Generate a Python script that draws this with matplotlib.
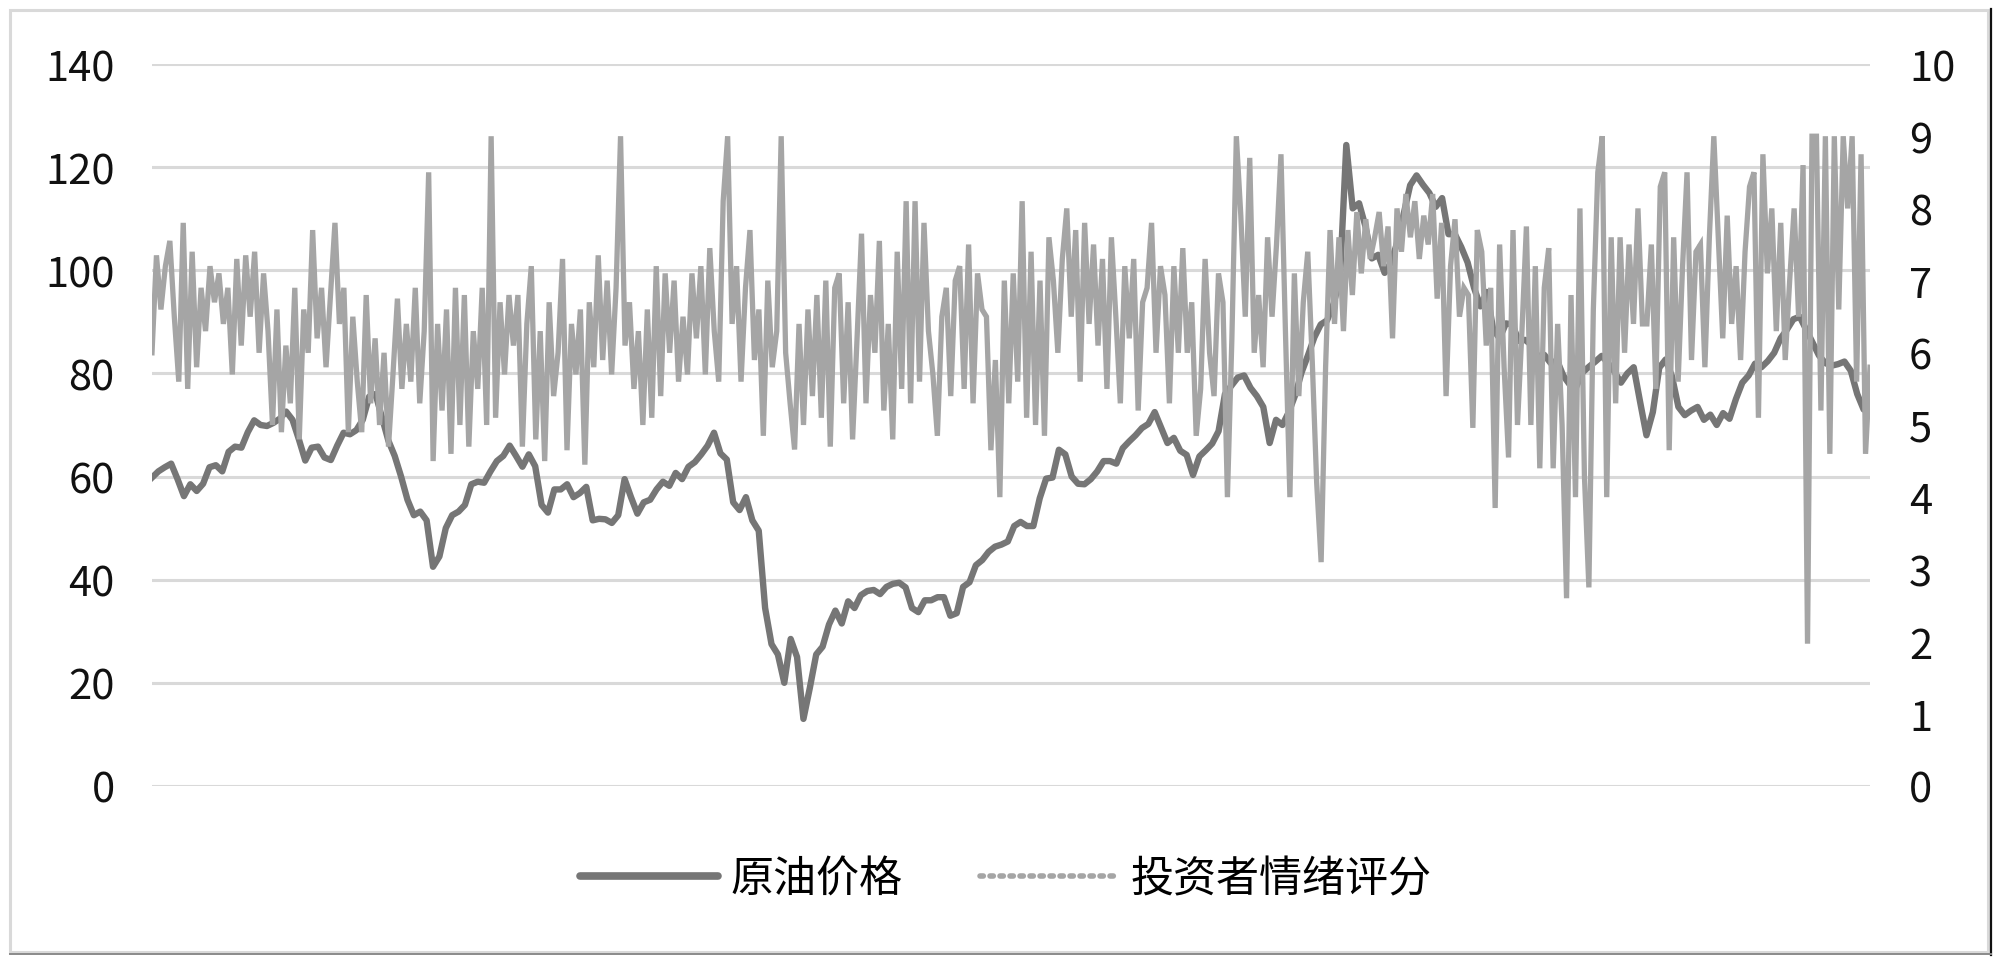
import numpy as np
import matplotlib.pyplot as plt
from matplotlib.lines import Line2D
from matplotlib.patches import Rectangle

plt.rcParams["font.family"] = ["Noto Sans CJK SC", "DejaVu Sans"]
plt.rcParams["font.weight"] = "light"

# crude oil price (left axis)
oil_price = [
    59.8, 61, 61.8, 62.5, 59.5, 56.2, 58.5, 57.2, 58.6, 61.8,
    62.2, 61, 64.8, 65.8, 65.6, 68.6, 70.9, 70, 69.8, 70.4,
    71.2, 72.6, 71, 67.2, 63.1, 65.6, 65.8, 63.7, 63.2, 66,
    68.5, 68.2, 69, 71, 75.5, 76, 71.5, 67, 64, 60,
    55.5, 52.5, 53.2, 51.5, 42.5, 44.5, 50, 52.5, 53.2, 54.5,
    58.5, 59, 58.8, 61, 63, 64, 66, 64, 61.9, 64.3,
    62, 54.5, 53, 57.5, 57.5, 58.5, 56, 56.8, 58, 51.5,
    51.8, 51.7, 51, 52.5, 59.5, 56, 52.8, 55, 55.5, 57.5,
    59, 58.2, 60.7, 59.5, 61.9, 62.8, 64.3, 66, 68.5, 64.5,
    63.3, 55, 53.5, 56, 51.5, 49.5, 34.5, 27.5, 25.5, 20,
    28.5, 25, 13, 19, 25.5, 27, 31.3, 34, 31.5, 35.8,
    34.5, 37, 37.8, 38, 37.2, 38.6, 39.2, 39.4, 38.5, 34.5,
    33.7, 36, 36, 36.6, 36.6, 33, 33.5, 38.6, 39.5, 42.8,
    43.8, 45.4, 46.4, 46.8, 47.4, 50.4, 51.2, 50.4, 50.4, 55.8,
    59.6, 59.8, 65.2, 64.3, 60, 58.6, 58.5, 59.5, 61, 63,
    63, 62.5, 65.5, 66.8, 68, 69.4, 70.2, 72.5, 69.5, 66.5,
    67.5, 65, 64.2, 60.3, 63.9, 65.1, 66.4, 68.8, 76, 77.6,
    79.2, 79.6, 77.2, 75.6, 73.5, 66.5, 71, 70, 72.5, 75.8,
    80.2, 83.5, 87, 89.5, 90.3, 93.5, 98.2, 124.3, 112, 113,
    108.5, 102.3, 103, 99.5, 101.5, 105.5, 111, 116.5, 118.4, 116.6,
    115, 112.3, 114, 107, 107, 104.5, 101.5, 96.6, 93, 95.8,
    88.5, 86.8, 89.7, 89.5, 86.3, 86.5, 85.5, 83.3, 83.6, 82,
    82.5, 79.5, 77.8, 77.4, 80.2, 81.3, 82.3, 83.4, 82, 80.3,
    78.2, 80, 81.2, 74.5, 68, 72.5, 81.1, 82.7, 79.4, 73.5,
    71.9, 72.8, 73.5, 71, 72, 70, 72.3, 71.2, 75, 78.2,
    79.6, 81.9, 81.2, 82.4, 84, 86.8, 88.5, 90.5, 91, 88.5,
    86, 83.5, 82, 81.5, 81.8, 82.3, 80.5, 76, 73, 77.5,
]

# investor sentiment score (right axis)
sentiment = [
    6.0, 7.35, 6.6, 7.2, 7.55, 6.5, 5.6, 7.8, 5.5, 7.4,
    5.8, 6.9, 6.3, 7.2, 6.7, 7.1, 6.4, 6.9, 5.7, 7.3,
    6.1, 7.35, 6.5, 7.4, 6.0, 7.1, 6.3, 5.0, 6.6, 4.9,
    6.1, 5.3, 6.9, 4.8, 6.6, 6.0, 7.7, 6.2, 6.9, 5.8,
    6.8, 7.8, 6.4, 6.9, 4.9, 6.5, 5.6, 4.9, 6.8, 5.3,
    6.2, 5.0, 6.0, 4.7, 5.7, 6.75, 5.5, 6.4, 5.6, 6.9,
    5.3, 6.3, 8.5, 4.5, 6.4, 5.2, 6.6, 4.6, 6.9, 5.0,
    6.8, 4.7, 6.3, 5.5, 6.9, 5.0, 9.0, 5.1, 6.7, 5.7,
    6.8, 6.1, 6.8, 4.7, 6.4, 7.2, 4.8, 6.3, 4.5, 6.7,
    5.4, 6.0, 7.3, 4.65, 6.4, 5.7, 6.6, 4.45, 6.7, 5.8,
    7.35, 5.9, 7.0, 5.7, 6.9, 9.0, 6.1, 6.7, 5.5, 6.3,
    5.0, 6.6, 5.1, 7.2, 5.4, 7.1, 6.0, 7.0, 5.6, 6.5,
    5.7, 7.1, 6.2, 7.2, 5.7, 7.45, 6.3, 5.6, 8.1, 9.0,
    6.4, 7.2, 5.6, 6.9, 7.7, 5.9, 6.6, 4.85, 7.0, 5.8,
    6.3, 9.0, 6.0, 5.3, 4.66, 6.4, 5.0, 6.6, 5.4, 6.8,
    5.1, 7.0, 4.7, 6.9, 7.1, 5.3, 6.7, 4.8, 6.2, 7.65,
    5.3, 6.8, 6.0, 7.55, 5.2, 6.4, 4.8, 7.4, 5.5, 8.1,
    5.3, 8.1, 5.6, 7.8, 6.3, 5.7, 4.85, 6.5, 6.9, 5.4,
    7.0, 7.2, 5.5, 7.5, 5.3, 7.1, 6.6, 6.5, 4.65, 5.9,
    4.0, 7.0, 5.3, 7.1, 5.6, 8.1, 5.1, 7.4, 5.0, 7.0,
    4.85, 7.6, 7.0, 6.0, 7.3, 8.0, 6.5, 7.7, 5.6, 7.8,
    6.4, 7.5, 6.1, 7.3, 5.5, 7.6, 6.5, 5.3, 7.2, 6.2,
    7.3, 5.2, 6.7, 6.9, 7.8, 6.0, 7.2, 6.8, 5.3, 7.2,
    6.0, 7.45, 6.0, 6.7, 4.85, 5.5, 7.3, 6.0, 5.4, 7.1,
    6.7, 4.0, 6.2, 9.0, 7.9, 6.5, 8.7, 6.0, 6.8, 5.8,
    7.6, 6.5, 7.5, 8.75, 6.3, 4.0, 7.1, 5.4, 6.7, 7.4,
    5.9, 4.2, 3.1, 5.8, 7.7, 6.4, 7.6, 6.3, 7.7, 6.8,
    7.95, 7.1, 7.85, 7.3, 7.6, 7.95, 7.2, 7.75, 6.2, 8.0,
    7.4, 8.2, 7.6, 8.1, 7.3, 7.9, 7.5, 8.2, 6.75, 7.8,
    5.4, 7.2, 7.85, 6.5, 6.9, 6.8, 4.96, 7.7, 7.4, 6.1,
    6.9, 3.85, 7.5, 5.8, 4.55, 7.7, 5.0, 6.3, 7.75, 5.0,
    7.2, 4.4, 6.9, 7.45, 4.4, 6.4, 5.0, 2.6, 6.8, 4.0,
    8.0, 4.3, 2.75, 6.6, 8.5, 9.0, 4.0, 7.6, 5.3, 7.6,
    6.0, 7.5, 6.4, 8.0, 6.4, 6.4, 7.5, 5.5, 8.3, 8.5,
    4.65, 7.6, 5.6, 7.2, 8.5, 5.9, 7.4, 7.5, 5.8, 7.6,
    9.0, 7.6, 6.2, 7.9, 6.4, 7.2, 5.9, 7.4, 8.3, 8.5,
    5.1, 8.75, 7.1, 8.0, 6.3, 7.8, 5.9, 7.0, 8.0, 6.5,
    8.6, 1.97, 9.0, 9.0, 5.2, 9.0, 4.6, 9.0, 6.6, 9.0,
    8.0, 9.0, 5.6, 8.75, 4.6, 5.8,
]

left_ticks = [0, 20, 40, 60, 80, 100, 120, 140]
right_ticks = [0, 1, 2, 3, 4, 5, 6, 7, 8, 9, 10]
labels = ["原油价格", "投资者情绪评分"]

OIL_COLOR = "#767676"
SENT_COLOR = "#a5a5a5"
GRID_COLOR = "#d9d9d9"

fig = plt.figure(figsize=(20, 9.62), dpi=100)

# outer chart frame like the excel chart area
fig.add_artist(Rectangle((0.005, 0.009), 0.989, 0.98, transform=fig.transFigure,
                         fill=False, edgecolor=GRID_COLOR, linewidth=2.2))
fig.add_artist(Line2D([0.9955, 0.9955], [0.006, 0.99], transform=fig.transFigure,
                      color="#111111", linewidth=1.6))
fig.add_artist(Line2D([0.005, 0.9955], [0.007, 0.007], transform=fig.transFigure,
                      color="#8a8a8a", linewidth=1.4))

ax = fig.add_axes([0.076, 0.182, 0.859, 0.7504])
ax2 = ax.twinx()

x_oil = np.arange(len(oil_price))
x_sent = np.linspace(0, len(oil_price) - 1, len(sentiment))

ax.plot(x_oil, oil_price, color=OIL_COLOR, linewidth=4.6, solid_joinstyle="round")
ax2.plot(x_sent, sentiment, color=SENT_COLOR, linewidth=3.8, solid_joinstyle="miter")

ax.set_xlim(0, len(oil_price) - 1)
ax.set_ylim(0, 140)
ax2.set_ylim(0, 10)
ax.set_yticks(left_ticks)
ax2.set_yticks(right_ticks)
ax.set_xticks([])

ax.grid(axis="y", color=GRID_COLOR, linewidth=2.2)
ax.set_axisbelow(True)
for a in (ax, ax2):
    for s in a.spines.values():
        s.set_visible(False)
    a.tick_params(axis="y", length=0, labelsize=30, colors="#111111")
ax.tick_params(axis="y", pad=27)
ax2.tick_params(axis="y", pad=28)

handles = [
    Line2D([], [], color=OIL_COLOR, linewidth=5.5, solid_capstyle="round"),
    Line2D([], [], color=SENT_COLOR, linewidth=4, linestyle=(0, (0.6, 1.2)),
           dash_capstyle="round"),
]
fig.legend(handles, labels, loc="center", bbox_to_anchor=(0.503, 0.085), ncol=2,
           frameon=False, fontsize=31, handlelength=3.2, handletextpad=0.3,
           columnspacing=1.8)

fig.savefig("out.png", dpi=100)
